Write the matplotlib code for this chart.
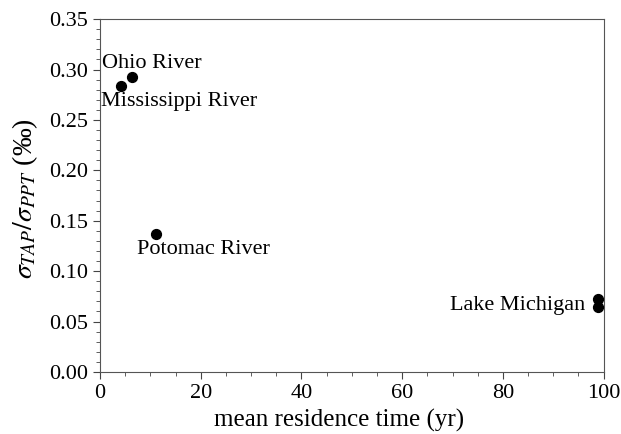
import matplotlib.pyplot as plt
from matplotlib.ticker import MultipleLocator

plt.rcParams['font.family'] = ['Liberation Serif', 'DejaVu Serif']
plt.rcParams['mathtext.fontset'] = 'stix'

sites = ["Ohio River", "Mississippi River", "Potomac River", "Lake Michigan", "Lake Michigan"]
residence = [6.3, 4.2, 11.1, 98.8, 98.8]
ratio = [0.293, 0.284, 0.137, 0.072, 0.0645]

fig, ax = plt.subplots(figsize=(6.21, 4.34), dpi=100)
fig.subplots_adjust(left=0.161, right=0.972, top=0.956, bottom=0.143)

ax.scatter(residence, ratio, s=50, color='black', zorder=3)

ax.text(0.5, 0.306, "Ohio River", fontsize=16, va='center', ha='left')
ax.text(0.2, 0.268, "Mississippi River", fontsize=16, va='center', ha='left')
ax.text(7.3, 0.121, "Potomac River", fontsize=16, va='center', ha='left')
ax.text(96.3, 0.066, "Lake Michigan", fontsize=16, va='center', ha='right')

ax.set_xlim(0, 100)
ax.set_ylim(0, 0.35)
ax.xaxis.set_major_locator(MultipleLocator(20))
ax.xaxis.set_minor_locator(MultipleLocator(5))
ax.yaxis.set_major_locator(MultipleLocator(0.05))
ax.yaxis.set_minor_locator(MultipleLocator(0.01))
ax.yaxis.set_major_formatter(plt.FormatStrFormatter('%.2f'))
ax.tick_params(which='both', direction='out', labelsize=16, color='#444444')
ax.tick_params(which='major', length=5)
ax.tick_params(which='minor', length=3)
for s in ax.spines.values():
    s.set_color('#555555')

ax.set_xlabel("mean residence time (yr)", fontsize=18)
ax.xaxis.set_label_coords(0.474, -0.105)
ax.set_ylabel(r"$\sigma_{TAP}/\sigma_{PPT}$ (‰)", fontsize=20)
ax.yaxis.set_label_coords(-0.12, 0.49)

plt.savefig("out.png")
